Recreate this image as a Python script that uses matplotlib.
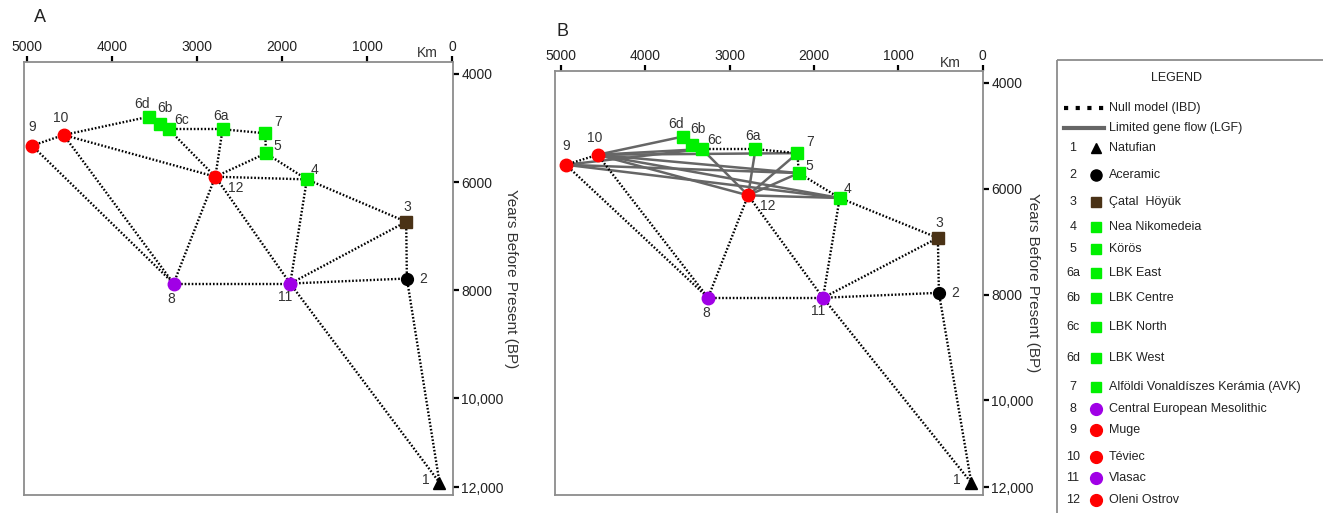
import numpy as np
import matplotlib.pyplot as plt
from matplotlib.patches import Rectangle

plt.rcParams['font.family'] = ['Liberation Sans', 'DejaVu Sans']

# sites, legend names and marker group
sites = ['1', '2', '3', '4', '5', '6a', '6b', '6c', '6d', '7', '8', '9', '10', '11', '12']
names = ['Natufian', 'Aceramic', 'Çatal  Höyük', 'Nea Nikomedeia', 'Körös', 'LBK East',
         'LBK Centre', 'LBK North', 'LBK West', 'Alföldi Vonaldíszes Kerámia (AVK)',
         'Central European Mesolithic', 'Muge', 'Téviec', 'Vlasac', 'Oleni Ostrov']
groups = ['natufian', 'aceramic', 'catal', 'neo', 'neo', 'neo', 'neo', 'neo', 'neo', 'neo',
          'meso_c', 'meso_w', 'meso_w', 'meso_c', 'meso_w']

# panel A: distance (km) and date (years BP)
km_a = [149, 533, 541, 1710, 2192, 2702, 3443, 3337, 3565, 2200, 3279, 4945, 4573, 1906, 2788]
bp_a = [11900, 7784, 6735, 5951, 5469, 5024, 4926, 5024, 4790, 5098, 7877, 5327, 5130, 7877, 5901]

# panel B
km_b = [134, 518, 530, 1694, 2180, 2693, 3440, 3326, 3551, 2195, 3255, 4941, 4565, 1892, 2780]
bp_b = [11900, 7968, 6930, 6175, 5704, 5251, 5170, 5251, 5013, 5327, 8062, 5547, 5358, 8062, 6125]

# links
ibd_a = [('9', '10'), ('10', '6d'), ('6c', '6a'), ('6a', '7'), ('7', '5'), ('5', '4'),
         ('5', '12'), ('12', '4'), ('6a', '12'), ('6c', '12'), ('10', '12'), ('9', '8'),
         ('10', '8'), ('12', '8'), ('12', '11'), ('8', '11'), ('4', '11'), ('4', '3'),
         ('3', '11'), ('3', '2'), ('2', '11'), ('2', '1'), ('11', '1')]
ibd_b = [('9', '10'), ('6c', '6a'), ('6a', '7'), ('7', '5'), ('5', '4'), ('4', '3'),
         ('9', '8'), ('10', '8'), ('12', '8'), ('12', '11'), ('8', '11'), ('4', '11'),
         ('3', '11'), ('3', '2'), ('2', '11'), ('2', '1'), ('11', '1')]
lgf_b = [('10', '6d'), ('10', '6c'), ('10', '7'), ('10', '5'), ('10', '4'), ('10', '12'),
         ('9', '6c'), ('9', '5'), ('9', '4'), ('12', '6c'), ('12', '6a'), ('12', '7'),
         ('12', '5'), ('12', '4')]

xticks = [5000, 4000, 3000, 2000, 1000, 0]
yticks = [4000, 6000, 8000, 10000, 12000]
ytick_labels = ['4000', '6000', '8000', '10,000', '12,000']

style = {
    'natufian': dict(marker='^', color='black', ms=8),
    'aceramic': dict(marker='o', color='black', ms=8.5),
    'catal': dict(marker='s', color='#4a3216', ms=8),
    'neo': dict(marker='s', color='#00f000', ms=8),
    'meso_c': dict(marker='o', color='#a000e6', ms=9),
    'meso_w': dict(marker='o', color='#ff0000', ms=9),
}

# label offsets in pixels
lab_off = {'1': (-14, 3), '2': (16, 0), '3': (1, 15), '4': (8, 9), '5': (11, 7),
           '6a': (-2, 13), '6b': (5, 16), '6c': (13, 9), '6d': (-7, 13), '7': (13, 11),
           '8': (-2, -15), '9': (0, 19), '10': (-3, 17), '11': (-5, -13), '12': (20, -11)}


def fwd(y):
    y = np.asarray(y, dtype=float)
    return np.where(y <= 10000, y, 10000 + (y - 10000) * 0.82)


def inv(y):
    y = np.asarray(y, dtype=float)
    return np.where(y <= 10000, y, 10000 + (y - 10000) / 0.82)


def draw_panel(ax, km, bp, ibd, lgf, xlim, ylim, km_pos, ylab_x):
    pos = {s: (k, b) for s, k, b in zip(sites, km, bp)}
    ax.set_yscale('function', functions=(fwd, inv))

    for a, b in lgf:
        ax.plot([pos[a][0], pos[b][0]], [pos[a][1], pos[b][1]],
                color='#666666', lw=1.8, zorder=2, solid_capstyle='round')
    for a, b in ibd:
        ax.plot([pos[a][0], pos[b][0]], [pos[a][1], pos[b][1]],
                color='black', lw=1.7, ls=(0, (0.7, 0.8)), zorder=3)

    for s, k, b, g in zip(sites, km, bp, groups):
        st = style[g]
        ax.plot(k, b, ls='none', marker=st['marker'], color=st['color'],
                ms=st['ms'], mec=st['color'], zorder=4)
        ax.annotate(s, (k, b), xytext=lab_off[s], textcoords='offset pixels',
                    ha='center', va='center', fontsize=10, color='#333333', zorder=5)

    ax.set_xlim(*xlim)
    ax.set_ylim(*ylim)
    ax.set_xticks(xticks)
    ax.set_xticklabels([str(x) for x in xticks])
    ax.set_yticks(yticks)
    ax.set_yticklabels(ytick_labels)
    ax.tick_params(axis='x', top=True, bottom=False, labeltop=True, labelbottom=False,
                   direction='out', length=4.5, width=1.6, color='black',
                   labelsize=10, pad=1.5, labelcolor='#222222')
    ax.tick_params(axis='y', left=False, right=True, labelleft=False, labelright=True,
                   direction='out', length=4.5, width=1.6, color='black',
                   labelsize=10, pad=1.5, labelcolor='#222222')
    ax.yaxis.set_label_position('right')
    ax.set_ylabel('Years Before Present (BP)', rotation=270, fontsize=11,
                  color='#333333', va='center', ha='center')
    ax.yaxis.set_label_coords(ylab_x, 0.5)
    ax.yaxis.set_minor_locator(plt.NullLocator())
    for sp in ax.spines.values():
        sp.set_color('#8c8c8c')
        sp.set_linewidth(1.3)
    ax.text(km_pos[0], km_pos[1], 'Km', transform=ax.transAxes, fontsize=10,
            color='#333333', ha='center', va='center')


fig = plt.figure(figsize=(13.23, 5.13), dpi=100)

ax_a = fig.add_axes([24 / 1323, 18 / 513, 429 / 1323, 433 / 513])
draw_panel(ax_a, km_a, bp_a, ibd_a, [], (5040, -10), (12180, 3780), (0.939, 1.021), 1.135)
fig.text(40 / 1323, 1 - 18 / 513, 'A', fontsize=13, ha='center', va='center', color='#222222')

ax_b = fig.add_axes([555 / 1323, 18 / 513, 428 / 1323, 424 / 513])
draw_panel(ax_b, km_b, bp_b, ibd_b, lgf_b, (5070, -5), (12184, 3774), (0.923, 1.019), 1.117)
fig.text(563 / 1323, 1 - 32 / 513, 'B', fontsize=13, ha='center', va='center', color='#222222')

# legend panel, drawn in pixel units
leg = fig.add_axes([0, 0, 1, 1])
leg.set_xlim(0, 1323)
leg.set_ylim(513, 0)
leg.axis('off')
leg.add_patch(Rectangle((1057, 60), 300, 500, fill=False, edgecolor='#8c8c8c', lw=1.3,
                        clip_on=False))
leg.text(1177, 78, 'LEGEND', fontsize=9, ha='center', va='center', color='#222222')
leg.plot([1064, 1104], [108, 108], color='black', lw=3, ls=(0, (1, 1.8)))
leg.text(1109, 108, 'Null model (IBD)', fontsize=9, va='center', color='#222222')
leg.plot([1064, 1104], [128, 128], color='#666666', lw=3)
leg.text(1109, 128, 'Limited gene flow (LGF)', fontsize=9, va='center', color='#222222')

row_y = [148, 175, 202, 227, 249, 273, 298, 327, 358, 387, 409, 430, 457, 478, 500]
for s, n, g, y in zip(sites, names, groups, row_y):
    st = style[g]
    leg.text(1073, y, s, fontsize=9, ha='center', va='center', color='#222222')
    leg.plot(1096, y, ls='none', marker=st['marker'], color=st['color'],
             ms=st['ms'] - 0.5, mec=st['color'])
    leg.text(1109, y, n, fontsize=9, va='center', color='#222222')

fig.savefig('out.png', dpi=100)
